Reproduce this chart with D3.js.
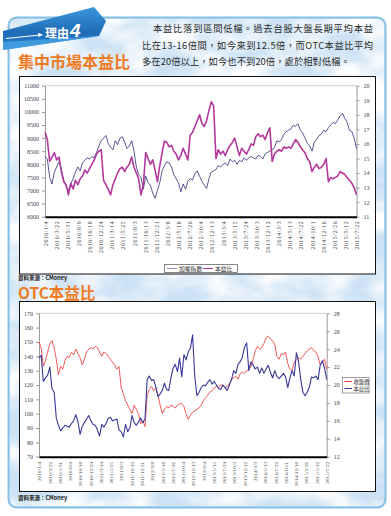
<!DOCTYPE html>
<html>
<head>
<meta charset="utf-8">
<script src="https://cdn.jsdelivr.net/npm/d3@7"></script>
<style>
body { margin: 0; background: #fff; }
svg { display: block; }
.tick text { font-family: "Liberation Serif", serif; }
</style>
</head>
<body>
<div id="chart"></div>
<script>
// x labels, same for both charts
var dateLabels = ["2010/1/4", "2010/3/22", "2010/5/31", "2010/8/9", "2010/10/18", "2010/12/24",
    "2011/3/14", "2011/5/25", "2011/8/3", "2011/10/13", "2011/12/21", "2012/3/8", "2012/5/18",
    "2012/7/26", "2012/10/4", "2012/12/13", "2013/3/4", "2013/5/15", "2013/7/24", "2013/10/3",
    "2013/12/12", "2014/3/3", "2014/5/13", "2014/7/22", "2014/10/1", "2014/12/10", "2015/2/26",
    "2015/5/12", "2015/7/22"]

// chart 1 : 集中市場, half-month samples
var taiex = [8300, 8200, 7500, 7250, 7700, 7900, 8100, 7800, 7400, 7150,
    7000, 7250, 7450, 7700, 7900, 7750, 8050, 8150, 8250, 8200,
    8300, 8250, 8450, 8700, 8900, 9000, 9100, 8800, 8650, 8550,
    8900, 8750, 9000, 9050, 8850, 8600, 8700, 8900, 8500, 7900,
    7600, 7500, 7050, 7550, 7300, 7200, 6900, 6700, 7000, 7300,
    7750, 7950, 8100, 8050, 7900, 7600, 7450, 7300, 6950, 7250,
    7050, 7350, 7450, 7400, 7650, 7750, 7550, 7350, 7200, 7080,
    7450, 7700, 7750, 7800, 7950, 7900, 8000, 8050, 7950, 8200,
    8100, 8150, 8000, 8150, 8100, 8250, 8150, 8250, 8300, 8250,
    8200, 8350, 8300, 8200, 8400, 8450, 8500, 8550, 8650, 8900,
    8850, 8950, 9150, 9250, 9300, 9350, 9500, 9450, 9550, 9300,
    9200, 9000, 8800, 8700, 8500, 8850, 8950, 9100, 9150, 9300,
    9250, 9400, 9500, 9600, 9550, 9700, 9850, 9950, 9750, 9600,
    9300, 9250, 9000, 8600]

var taiexPE = [16.8, 16.3, 14.8, 15.1, 15.4, 14.9, 15.1, 14.1, 13.4, 13.2,
    12.5, 13.3, 12.9, 13.5, 13.2, 13.6, 13.8, 14.2, 14.0, 14.3,
    14.6, 14.9, 15.3, 15.5, 15.6, 13.5, 13.2, 12.9, 12.5, 13.2,
    13.6, 14.0, 14.3, 14.4, 14.1, 14.4, 14.6, 15.1, 14.4, 14.0,
    13.6, 12.5, 13.2, 15.4, 15.0, 14.6, 14.9, 14.2, 13.4, 14.5,
    15.4, 16.2, 16.1, 15.8, 15.9, 15.5, 15.3, 14.9, 15.2, 15.7,
    15.3, 14.9, 16.6, 16.8, 17.2, 17.6, 18.0, 17.4, 17.2, 17.6,
    18.3, 18.9, 18.6, 15.0, 15.6, 15.3, 15.5, 15.2, 15.6, 15.9,
    16.1, 16.4, 15.8, 15.2, 15.7, 15.5, 15.3, 15.6, 16.0, 15.9,
    16.5, 16.7, 16.5, 16.6, 16.3, 16.8, 17.1, 14.8, 15.3, 15.5,
    15.6, 15.5, 15.8, 15.7, 15.8, 15.7, 16.0, 16.3, 16.1, 15.8,
    15.6, 15.4, 15.0, 14.8, 14.1, 14.4, 14.6, 14.3, 14.4, 14.6,
    15.0, 13.4, 13.7, 13.6, 13.7, 13.8, 14.1, 14.0, 13.9, 13.7,
    13.5, 13.3, 13.0, 12.5]

// chart 2 : OTC
var otcClose = [150, 146, 133, 137, 143, 149, 151, 146, 138, 127,
    133, 131, 137, 140, 139, 143, 141, 145, 142, 139,
    134, 138, 143, 145, 146, 145, 147, 146, 143, 140,
    143, 142, 140, 138, 136, 134, 131, 133, 118, 114,
    109, 106, 103, 100, 106, 103, 100, 93, 95, 91,
    113, 117, 119, 116, 118, 113, 106, 100, 103, 105,
    104, 106, 105, 104, 106, 107, 107, 105, 100, 96,
    99, 101, 102, 103, 104, 106, 109, 111, 113, 115,
    116, 118, 119, 118, 120, 120, 118, 119, 121, 124,
    125, 126, 124, 128, 129, 128, 130, 131, 133, 138,
    144, 147, 145, 146, 149, 153, 154, 152, 151, 148,
    140, 138, 142, 141, 143, 135, 131, 130, 136, 138,
    139, 138, 140, 142, 144, 145, 146, 144, 143, 140,
    134, 136, 138, 131]

var otcPE = [23.0, 23.3, 20.4, 20.8, 21.1, 22.0, 19.6, 19.2, 16.3, 15.5,
    14.9, 15.2, 15.5, 15.4, 15.3, 15.7, 16.0, 16.7, 15.9, 14.5,
    15.4, 15.8, 16.2, 16.6, 16.0, 15.6, 15.5, 15.0, 14.3, 15.6,
    15.3, 15.7, 16.3, 16.4, 16.0, 16.1, 16.2, 15.0, 14.8, 14.2,
    15.6, 14.8, 15.2, 16.6, 15.8, 15.5, 15.9, 16.3, 15.8, 16.2,
    20.6, 21.0, 20.5, 20.6, 19.8, 18.7, 19.0, 19.4, 20.2, 19.5,
    19.4, 20.8, 21.9, 22.3, 21.5, 23.0, 20.9, 23.4, 22.8, 23.7,
    24.1, 25.6, 21.0, 18.8, 19.2, 19.7, 20.0, 19.9, 20.3, 20.6,
    20.1, 20.4, 20.0, 19.6, 19.5, 20.0, 19.7, 19.4, 20.0, 20.6,
    21.6, 21.3, 22.3, 22.6, 23.1, 24.2, 24.7, 21.6, 22.6, 22.2,
    21.8, 22.0, 21.3, 21.9, 21.3, 21.8, 22.2, 21.4, 20.8, 21.6,
    21.0, 20.7, 21.0, 21.3, 20.9, 19.7, 20.8, 21.6, 21.0, 23.6,
    22.6, 20.6, 19.2, 18.8, 19.2, 19.8, 20.9, 20.8, 21.0, 20.6,
    22.2, 22.7, 21.9, 20.6]

var leftTicks1 = d3.range(6000, 11001, 500)
var rightTicks1 = d3.range(11, 21, 1)
var leftTicks2 = d3.range(70, 171, 10)
var rightTicks2 = d3.range(12, 29, 2)

var svg = d3.select("#chart").append("svg")
    .attr("width", 391)
    .attr("height", 516)

var defs = svg.append("defs")

// cloudy texture of the panel
var flt = defs.append("filter").attr("id", "cloud")
    .attr("x", 0).attr("y", 0).attr("width", 1).attr("height", 1)
flt.append("feTurbulence").attr("type", "fractalNoise")
    .attr("baseFrequency", "0.02 0.032").attr("numOctaves", 3).attr("seed", 7).attr("result", "n")
flt.append("feColorMatrix").attr("in", "n").attr("type", "matrix")
    .attr("values", "0 0 0 0 1  0 0 0 0 1  0 0 0 0 1  2.6 0 0 0 -0.9").attr("result", "w")
flt.append("feComposite").attr("in", "w").attr("in2", "SourceGraphic").attr("operator", "in")

var grad = defs.append("linearGradient").attr("id", "tabGrad")
    .attr("x1", 0).attr("y1", 0).attr("x2", 0).attr("y2", 1)
grad.append("stop").attr("offset", "0%").attr("stop-color", "#3a97dc")
grad.append("stop").attr("offset", "60%").attr("stop-color", "#1f6cb6")
grad.append("stop").attr("offset", "100%").attr("stop-color", "#2a86cf")

// panel
svg.append("rect")
    .attr("x", 8.5).attr("y", 17.5).attr("width", 377).attr("height", 490).attr("rx", 8)
    .attr("fill", "#cde3f5").attr("stroke", "#84c0e8").attr("stroke-width", 2)
svg.append("rect")
    .attr("x", 10).attr("y", 19).attr("width", 374).attr("height", 487).attr("rx", 7)
    .attr("fill", "#fff").attr("filter", "url(#cloud)")

// tab 理由4
svg.append("path")
    .attr("d", "M3,31 L94,7 L106,21 L99,36 L3,50 Z")
    .attr("fill", "url(#tabGrad)")
svg.append("path")
    .attr("d", "M3,42 L99,36 L3,50 Z")
    .attr("fill", "#4aaae6").attr("opacity", 0.7)
svg.append("line")
    .attr("x1", 6).attr("y1", 38.5).attr("x2", 40).attr("y2", 35)
    .attr("stroke", "#fff").attr("stroke-width", 1.2)
svg.append("path")
    .attr("d", "M43,34.7 L38,32.8 L38.6,37 Z").attr("fill", "#fff")
svg.append("text")
    .attr("x", 45).attr("y", 38)
    .attr("font-family", "Noto Sans CJK TC").attr("font-weight", "bold").attr("font-size", 12)
    .attr("fill", "#fff").text("理由")
svg.append("text")
    .attr("x", 70).attr("y", 37)
    .attr("font-family", "Liberation Sans").attr("font-weight", "bold").attr("font-style", "italic")
    .attr("font-size", 19).attr("fill", "#fff").text("4")

// intro paragraph
var para = [
    { t: "本益比落到區間低檔。過去台股大盤長期平均本益", x: 153, y: 32, w: 220 },
    { t: "比在13-16倍間，如今來到12.5倍，而OTC本益比平均", x: 142, y: 48.5, w: 231 },
    { t: "多在20倍以上，如今也不到20倍，處於相對低檔。", x: 142, y: 65, w: 208 }
]
svg.selectAll(".para").data(para).enter().append("text")
    .attr("class", "para")
    .attr("x", function(d) { return d.x })
    .attr("y", function(d) { return d.y })
    .attr("textLength", function(d) { return d.w })
    .attr("lengthAdjust", "spacing")
    .attr("font-family", "Noto Sans CJK TC").attr("font-size", 9.3).attr("fill", "#2b2b2b")
    .text(function(d) { return d.t })

function title(txt, y, fs) {
    svg.append("text")
        .attr("x", 18).attr("y", y)
        .attr("font-family", "Noto Sans CJK TC").attr("font-weight", "bold").attr("font-size", fs)
        .attr("fill", "#f07a22").text(txt)
}
title("集中市場本益比", 68, 16)
title("OTC本益比", 298.5, 15.5)

function source(y) {
    svg.append("text")
        .attr("x", 18).attr("y", y)
        .attr("font-family", "Noto Sans CJK TC").attr("font-weight", "bold").attr("font-size", 5.5)
        .attr("fill", "#222").text("資料來源：CMoney")
}
source(279.5)
source(500)

function styleAxis(g, fs) {
    g.select(".domain").attr("stroke", "#9a9a9a")
    g.selectAll(".tick line").attr("stroke", "#9a9a9a")
    g.selectAll(".tick text").attr("fill", "#444").attr("font-size", fs)
}

function drawChart(o) {
    svg.append("rect")
        .attr("x", 19.5).attr("y", o.frame[0]).attr("width", 356).attr("height", o.frame[1])
        .attr("fill", "#fff").attr("stroke", "#111").attr("stroke-width", 1)

    var x = d3.scaleLinear().domain([0, o.s1.length - 1]).range([o.left, o.right])
    var xl = d3.scalePoint().domain(dateLabels).range([o.left, o.right])
    var yl = d3.scaleLinear().domain(o.ld).range([o.bottom, o.top])
    var yr = d3.scaleLinear().domain(o.rd).range([o.bottom, o.top])

    // top grid line
    svg.append("line")
        .attr("x1", o.left).attr("x2", o.right)
        .attr("y1", yl(o.ld[1])).attr("y2", yl(o.ld[1]))
        .attr("stroke", "#cfcfcf").attr("stroke-width", 1)

    var gl = svg.append("g").attr("transform", "translate(" + o.left + ",0)")
        .call(d3.axisLeft(yl).tickValues(o.lt).tickFormat(d3.format("d"))
            .tickSize(3).tickPadding(3).tickSizeOuter(0))
    styleAxis(gl, o.fs)
    var gr = svg.append("g").attr("transform", "translate(" + o.right + ",0)")
        .call(d3.axisRight(yr).tickValues(o.rt).tickFormat(d3.format("d"))
            .tickSize(3).tickPadding(4).tickSizeOuter(0))
    styleAxis(gr, o.fs)

    var lineL = d3.line().x(function(d, i) { return x(i) }).y(function(d) { return yl(d) })
    var lineR = d3.line().x(function(d, i) { return x(i) }).y(function(d) { return yr(d) })

    svg.append("path").datum(o.s1).attr("d", o.s1Right ? lineR : lineL)
        .attr("fill", "none").attr("stroke", o.c1).attr("stroke-width", o.w1)
    svg.append("path").datum(o.s2).attr("d", o.s2Right ? lineR : lineL)
        .attr("fill", "none").attr("stroke", o.c2).attr("stroke-width", o.w2)
        .attr("stroke-linejoin", "round")

    var gb = svg.append("g").attr("transform", "translate(0," + o.bottom + ")")
        .call(d3.axisBottom(xl).tickSize(0).tickPadding(0))
    gb.select(".domain").attr("stroke", "#000").attr("stroke-width", 2)
    gb.selectAll(".tick text")
        .attr("transform", "rotate(-90)")
        .attr("text-anchor", "end")
        .attr("x", -o.lpad).attr("y", 0).attr("dy", "0.35em")
        .attr("fill", "#444").attr("font-size", o.xfs)
        .attr("letter-spacing", o.ls)
}

drawChart({
    frame: [76.5, 197.5], left: 45, right: 356.5, top: 85.7, bottom: 216.7,
    ld: [6000, 11000], rd: [11, 20], lt: leftTicks1, rt: rightTicks1, fs: 6,
    s1: taiex, s2: taiexPE, s1Right: false, s2Right: true,
    c1: "#2d2d78", w1: 0.8, c2: "#b4389c", w2: 1.6,
    lpad: 4, xfs: 5.8, ls: 0.6
})

drawChart({
    frame: [301.5, 190], left: 39, right: 326.7, top: 313.3, bottom: 456.7,
    ld: [70, 170], rd: [12, 28], lt: leftTicks2, rt: rightTicks2, fs: 6,
    s1: otcClose, s2: otcPE, s1Right: false, s2Right: true,
    c1: "#ef4a4a", w1: 0.9, c2: "#38389a", w2: 1.1,
    lpad: 5, xfs: 5, ls: 0.2
})

// legend chart 1
var leg1 = svg.append("g")
leg1.append("rect").attr("x", 164.5).attr("y", 264.5).attr("width", 73).attr("height", 8)
    .attr("fill", "#fff").attr("stroke", "#555").attr("stroke-width", 0.7)
var leg1Items = [{ name: "加權指數", c: "#8c8cd0", x: 167 }, { name: "本益比", c: "#b4389c", x: 203 }]
leg1Items.forEach(function(d) {
    leg1.append("line").attr("x1", d.x).attr("x2", d.x + 10).attr("y1", 268.5).attr("y2", 268.5)
        .attr("stroke", d.c).attr("stroke-width", 1)
    leg1.append("text").attr("x", d.x + 12).attr("y", 270.6)
        .attr("font-family", "Noto Sans CJK TC").attr("font-size", 5.8).attr("fill", "#333").text(d.name)
})

// legend chart 2
var leg2 = svg.append("g")
leg2.append("rect").attr("x", 342.5).attr("y", 377.5).attr("width", 26.5).attr("height", 15.5)
    .attr("fill", "#fff").attr("stroke", "#777").attr("stroke-width", 0.7)
var leg2Items = [{ name: "收盤價", c: "#ef4a4a", y: 381.5 }, { name: "本益比", c: "#38389a", y: 388.5 }]
leg2Items.forEach(function(d) {
    leg2.append("line").attr("x1", 344.5).attr("x2", 352).attr("y1", d.y).attr("y2", d.y)
        .attr("stroke", d.c).attr("stroke-width", 1)
    leg2.append("text").attr("x", 353.5).attr("y", d.y + 2)
        .attr("font-family", "Noto Sans CJK TC").attr("font-size", 5.3).attr("fill", "#333").text(d.name)
})
</script>
</body>
</html>
